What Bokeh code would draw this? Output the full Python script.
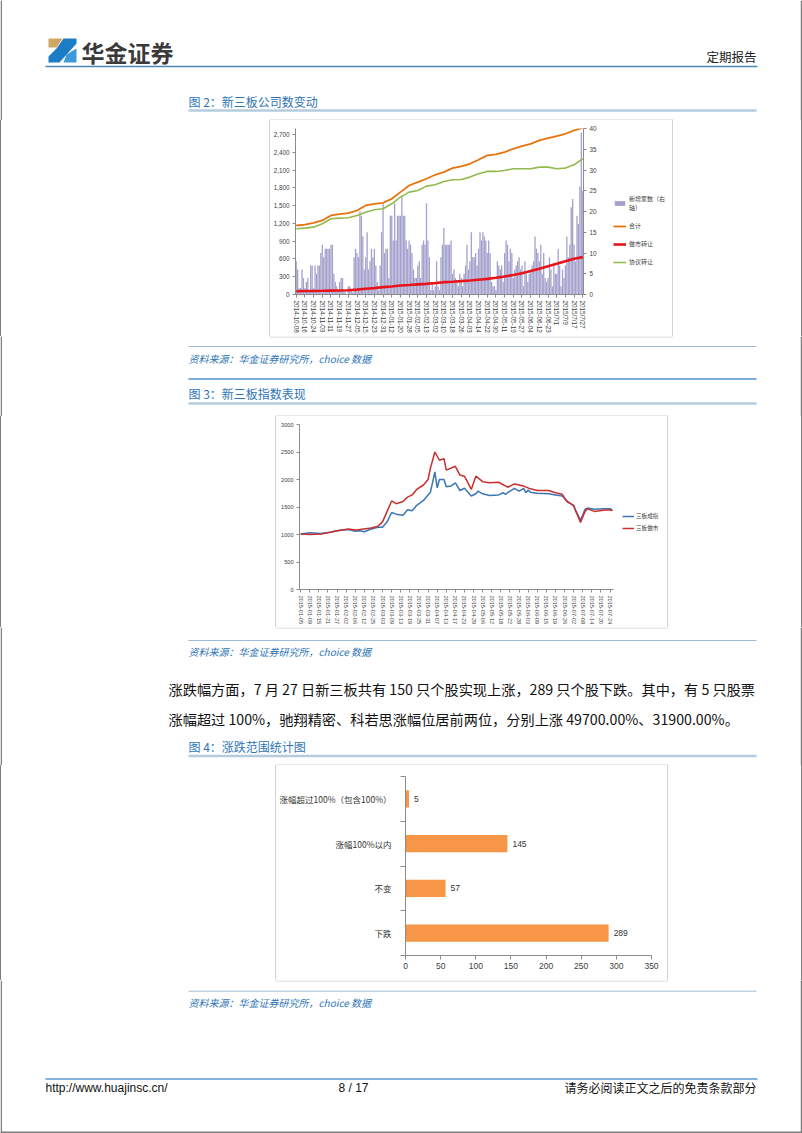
from bokeh.plotting import figure
from bokeh.models import Range1d, LinearAxis, FixedTicker, NumeralTickFormatter, Legend, LegendItem, Div
from bokeh.layouts import column, row
from bokeh.core.properties import value
from bokeh.embed import file_html
from bokeh.resources import INLINE

CJK = "Noto Sans CJK SC"
LAT = "Liberation Sans"

# ---------------- Figure 2 data: company counts (trading days 2014-10-08 .. 2015-07-27) ----------
fig2_tick_labels = ["2014-10-08", "2014-10-16", "2014-10-24", "2014-11-03", "2014-11-11", "2014-11-19",
                    "2014-11-27", "2014-12-05", "2014-12-15", "2014-12-23", "2014-12-31", "2015-01-12",
                    "2015-01-20", "2015-01-28", "2015-02-05", "2015-02-13", "2015-03-02", "2015-03-10",
                    "2015-03-18", "2015-03-26", "2015-04-03", "2015-04-14", "2015-04-22", "2015-04-30",
                    "2015-05-11", "2015-05-19", "2015-05-27", "2015-06-04", "2015-06-12", "2015-06-23",
                    "2015/7/1", "2015/7/9", "2015/7/17", "2015/7/27"]
fig2_tick_idx = [0, 6, 12, 18, 24, 30, 36, 42, 48, 54, 60, 66, 72, 78, 84, 90, 96, 102, 108, 114,
                 120, 126, 132, 138, 144, 150, 156, 162, 168, 174, 180, 186, 192, 198]
new_listed = [8, 6, 1.5, 1.5, 6, 4,
              1.5, 3, 4, 1, 7, 7,
              1.5, 7, 5, 7, 7, 10,
              12, 9, 11, 11, 11, 11,
              12, 12, 5, 3, 2, 1,
              3, 4, 4, 1, 0.5, 0,
              2, 2, 1, 0.5, 9, 11,
              10, 9, 20, 19, 14, 6,
              9, 15, 6, 8, 11, 9,
              11, 7, 3, 1, 7, 15,
              22, 10, 11, 11, 4, 19,
              19, 13, 22, 13, 19, 19,
              19, 24, 19, 19, 13, 11,
              13, 12, 10, 6, 4, 4,
              7, 8, 4, 12, 13, 12,
              22, 13, 9, 1, 3, 1,
              2, 8, 2, 1, 9, 12,
              16, 12, 12, 12, 12, 13,
              5, 6, 4, 3, 2, 5,
              4, 2, 5, 7, 12, 6,
              8, 15, 9, 9, 10, 7,
              11, 15, 13, 15, 14, 13,
              10, 13, 10, 3, 2, 2,
              1, 8, 7, 6, 7, 3,
              10, 13, 12, 8, 11, 10,
              4, 6, 7, 8, 9, 6,
              7, 2, 8, 5, 3, 5,
              6, 7, 8, 14, 11, 10,
              8, 12, 5, 10, 4, 3,
              4, 9, 6, 2, 7, 5,
              5, 11, 7, 2, 6, 4,
              7, 14, 9, 12, 21, 23,
              12, 8, 19, 17, 26, 39,
              25]
total_cos = [1164, 1180, 1209, 1249, 1333, 1355, 1372, 1417, 1502, 1530, 1547, 1614, 1727, 1839, 1895,
             1952, 2019, 2064, 2132, 2160, 2205, 2272, 2346, 2362, 2402, 2458, 2503, 2542, 2599, 2638,
             2672, 2711, 2767, 2810]
mm_cos = [56, 58, 60, 62, 65, 68, 72, 82, 96, 108, 124, 135, 152, 160, 170, 180, 192, 208, 215, 225,
          236, 250, 264, 283, 304, 330, 360, 395, 433, 475, 517, 560, 602, 630]
agree_cos = [1108, 1120, 1136, 1193, 1277, 1288, 1294, 1333, 1389, 1429, 1446, 1530, 1643, 1727, 1755,
             1828, 1850, 1907, 1935, 1941, 1980, 2036, 2076, 2076, 2092, 2121, 2121, 2121, 2149, 2149,
             2121, 2132, 2188, 2290]
fig2_left_ticks = [0, 300, 600, 900, 1200, 1500, 1800, 2100, 2400, 2700]
fig2_right_ticks = [0, 5, 10, 15, 20, 25, 30, 35, 40]
fig2_series = ["新增家数（右\n轴）", "合计", "做市转让", "协议转让"]

# ---------------- Figure 3 data: indices (trading days 2015-01-05 .. 2015-07-27) ----------
fig3_tick_labels = ["2015-01-05", "2015-01-09", "2015-01-15", "2015-01-21", "2015-01-27", "2015-02-02",
                    "2015-02-06", "2015-02-12", "2015-02-25", "2015-03-03", "2015-03-09", "2015-03-13",
                    "2015-03-19", "2015-03-25", "2015-03-31", "2015-04-07", "2015-04-13", "2015-04-17",
                    "2015-04-23", "2015-04-29", "2015-05-06", "2015-05-12", "2015-05-18", "2015-05-22",
                    "2015-05-28", "2015-06-03", "2015-06-09", "2015-06-15", "2015-06-19", "2015-06-26",
                    "2015-07-02", "2015-07-08", "2015-07-14", "2015-07-20", "2015-07-24"]
fig3_tick_idx = [4 * i for i in range(35)]
comp_idx = [0, 4, 9, 13, 16, 21, 24, 26, 28, 31, 34, 36, 38, 40, 42, 45, 47, 49, 51, 54, 56, 57, 59, 60,
            61, 63, 64, 66, 68, 70, 72, 75, 77, 78, 80, 83, 87, 89, 90, 91, 94, 96, 98, 99, 100, 101,
            104, 109, 112, 115, 117, 120, 121, 123, 125, 126, 129, 133, 136, 137]
comp_val = [1010, 1030, 1020, 1040, 1070, 1090, 1060, 1070, 1050, 1100, 1130, 1130, 1230, 1400, 1370,
            1350, 1450, 1430, 1530, 1620, 1720, 1760, 2140, 1850, 2000, 2000, 1870, 1880, 1940, 1800,
            1840, 1700, 1740, 1790, 1740, 1710, 1720, 1760, 1730, 1760, 1840, 1790, 1840, 1760, 1810,
            1770, 1750, 1740, 1720, 1700, 1610, 1520, 1420, 1260, 1460, 1480, 1460, 1470, 1470, 1440]
mm_idx = [0, 4, 9, 13, 16, 21, 24, 26, 31, 34, 36, 38, 40, 42, 45, 47, 49, 51, 54, 56, 57, 59, 61, 63,
          64, 68, 70, 72, 75, 77, 80, 83, 87, 91, 94, 98, 101, 104, 109, 112, 115, 117, 120, 121, 123,
          125, 126, 129, 133, 136, 137]
mm_val = [1010, 1000, 1010, 1040, 1070, 1100, 1080, 1090, 1120, 1150, 1230, 1420, 1610, 1560, 1600,
          1680, 1720, 1820, 1900, 2000, 2200, 2500, 2350, 2380, 2170, 2240, 2080, 2060, 1820, 2060,
          1960, 1940, 1950, 1860, 1920, 1880, 1830, 1800, 1800, 1760, 1730, 1600, 1530, 1420, 1220,
          1420, 1470, 1420, 1440, 1450, 1430]
fig3_y_ticks = [0, 500, 1000, 1500, 2000, 2500, 3000]
fig3_series = ["三板成指", "三板做市"]

# ---------------- Figure 4 data ----------
range_cats = ["涨幅超过100%（包含100%）", "涨幅100%以内", "不变", "下跌"]
range_counts = [5, 145, 57, 289]
fig4_x_ticks = [0, 50, 100, 150, 200, 250, 300, 350]

# ---------------- page texts ----------
para_lines = ["涨跌幅方面，7 月 27 日新三板共有 150 只个股实现上涨，289 只个股下跌。其中，有 5 只股票",
              "涨幅超过 100%，驰翔精密、科若思涨幅位居前两位，分别上涨 49700.00%、31900.00%。"]
source_txt = "资料来源：华金证券研究所，choice 数据"

BORDER = "#7f7f7f"
BOX = "#d4d4d4"
TITLE_BLUE = "#2E75B6"
AX = "#8C8C8C"
LBL = "#404040"
C_BAR = "#A4A2CD"
C_TOT = "#E8720C"
C_MM = "#E8141B"
C_AG = "#93BA4C"
C_COMP = "#3B76B6"
C_MM2 = "#C8302E"


def blank(w, h, x0, y0):
    p = figure(width=w, height=h, x_range=Range1d(x0, x0 + w), y_range=Range1d(y0 + h, y0),
               x_axis_type=None, y_axis_type=None, min_border=0, toolbar_location=None,
               output_backend="svg", outline_line_color=None)
    p.background_fill_color = "white"
    p.border_fill_color = "white"
    return p


def hline(p, y, x0, x1, color, width=1.0):
    p.line(x=[x0, x1], y=[y, y], line_color=color, line_width=width)


def vline(p, x, y0, y1, color, width=1.0):
    p.line(x=[x, x], y=[y0, y1], line_color=color, line_width=width)


def txt(p, x, y, s, size, color="#000000", align="left", font=CJK, style="normal"):
    p.text(x=[x], y=[y], text=[s], text_font=value(font), text_font_size=size, text_color=color,
           text_align=align, text_baseline="middle", text_font_style=style)


def page_piece(y0, h):
    p = blank(802, h, 0, y0)
    vline(p, 0.75, y0, y0 + h, BORDER, 1.5)
    vline(p, 801.0, y0, y0 + h, BORDER, 1.5)
    return p


def filler(w, h, side):
    if side == "left":
        st = {"border-left": "1.5px solid " + BORDER, "border-right": "1px solid " + BOX}
    else:
        st = {"border-left": "1px solid " + BOX, "border-right": "1.5px solid " + BORDER}
    st.update({"box-sizing": "border-box", "background-color": "white", "padding": "0px", "margin": "0px"})
    return Div(text="", width=w, height=h, margin=(0, 0, 0, 0), styles=st)


def legend_panel(w, h):
    # frame top/bottom of this panel get aligned with the neighbouring chart in the row
    p = figure(width=w, height=h, x_range=Range1d(0, 1), y_range=Range1d(0, 1),
               x_axis_type=None, y_axis_type=None, min_border=0, toolbar_location=None,
               output_backend="svg", outline_line_color=None)
    return p


def style_axis(ax, size, font=LAT):
    ax.axis_line_color = AX
    ax.major_tick_line_color = AX
    ax.minor_tick_line_color = None
    ax.major_tick_in = 0
    ax.major_tick_out = 3
    ax.major_label_text_font_size = size
    ax.major_label_text_font = font
    ax.major_label_text_color = LBL
    ax.major_label_standoff = 3


# ================= header piece =================
P1 = page_piece(0, 120)
P1.patches(xs=[[48, 62, 56, 48], [63, 76, 76, 59, 48, 48, 56], [66, 76, 76, 63]],
           ys=[[38, 38, 47, 47], [38, 38, 43, 62, 62, 56, 48], [54, 48, 62, 62]],
           fill_color=["#D0A866", "#1D7CC6", "#3C9BDA"], line_color=None)
txt(P1, 81, 51.5, "华金证券", "23px", "#3a3a3a", style="bold")
txt(P1, 756, 56, "定期报告", "12.5px", "#222222", align="right")
hline(P1, 66, 45, 757, "#4A86B5", 1.6)
txt(P1, 188, 101, "图 2：新三板公司数变动", "12px", TITLE_BLUE)
hline(P1, 110, 188, 756, "#B4CCDD", 2.5)
hline(P1, 119.5, 269, 673, BOX, 1)

# ================= chart 1 (figure 2) =================
n1 = len(new_listed)
c1 = figure(width=335, height=216, x_range=Range1d(-0.5, n1 - 0.5), y_range=Range1d(0, 2800),
            extra_y_ranges={"r": Range1d(0, 40)}, x_axis_type=None, y_axis_type=None,
            min_border_left=25, min_border_right=22, min_border_top=8, min_border_bottom=42,
            toolbar_location=None, output_backend="svg", outline_line_color=None)
c1.vbar(x=list(range(n1)), top=new_listed, width=0.9, y_range_name="r", fill_color=C_BAR, line_color=None)
c1.line(x=fig2_tick_idx, y=total_cos, line_color=C_TOT, line_width=1.8)
c1.line(x=fig2_tick_idx, y=mm_cos, line_color=C_MM, line_width=2.6)
c1.line(x=fig2_tick_idx, y=agree_cos, line_color=C_AG, line_width=1.6)
ax_b = LinearAxis(ticker=FixedTicker(ticks=fig2_tick_idx),
                  major_label_overrides={i: s for i, s in zip(fig2_tick_idx, fig2_tick_labels)})
style_axis(ax_b, "6.3px")
ax_b.major_label_orientation = "vertical"
c1.add_layout(ax_b, "below")
ax_l = LinearAxis(ticker=FixedTicker(ticks=fig2_left_ticks), formatter=NumeralTickFormatter(format="0,0"))
style_axis(ax_l, "6.3px")
c1.add_layout(ax_l, "left")
ax_r = LinearAxis(y_range_name="r", ticker=FixedTicker(ticks=fig2_right_ticks))
style_axis(ax_r, "6.3px")
c1.add_layout(ax_r, "right")

# legend panel for chart 1: hidden proxy renderers carry the series styles
lg1 = legend_panel(67, 216)
k_bar = lg1.vbar(x=[0.5], top=[0.5], width=0.1, fill_color=C_BAR, line_color=None, visible=False)
k_tot = lg1.line(x=[0, 1], y=[0.5, 0.5], line_color=C_TOT, line_width=1.8, visible=False)
k_mm = lg1.line(x=[0, 1], y=[0.5, 0.5], line_color=C_MM, line_width=2.6, visible=False)
k_ag = lg1.line(x=[0, 1], y=[0.5, 0.5], line_color=C_AG, line_width=1.6, visible=False)
leg1 = Legend(items=[LegendItem(label=fig2_series[0], renderers=[k_bar]),
                     LegendItem(label=fig2_series[1], renderers=[k_tot]),
                     LegendItem(label=fig2_series[2], renderers=[k_mm]),
                     LegendItem(label=fig2_series[3], renderers=[k_ag])],
              location=(8, 28), border_line_color=None, background_fill_alpha=0,
              inactive_fill_alpha=0,
              label_text_font=CJK, label_text_font_size="6px", label_text_color=LBL,
              glyph_width=13, glyph_height=6, label_standoff=3, spacing=9, padding=2, margin=0,
              label_height=7)
lg1.add_layout(leg1, "center")

R1 = row(filler(270, 216, "left"), c1, lg1, filler(130, 216, "right"), spacing=0)

# ================= piece 2 =================
P2 = page_piece(336, 80)
hline(P2, 336.5, 269, 673, BOX, 1)
hline(P2, 346, 188, 756, "#9DBBD6", 1)
txt(P2, 188, 357.5, source_txt, "10px", TITLE_BLUE, style="italic")
hline(P2, 378.5, 188, 756, "#4F8FCB", 1.6)
txt(P2, 188, 393, "图 3：新三板指数表现", "12px", TITLE_BLUE)
hline(P2, 403, 188, 756, "#B4CCDD", 2.5)
hline(P2, 415.5, 275, 668, BOX, 1)

# ================= chart 2 (figure 3) =================
c2 = figure(width=341, height=211, x_range=Range1d(-0.5, 137.5), y_range=Range1d(0, 3000),
            x_axis_type=None, y_axis_type=None,
            min_border_left=23, min_border_right=4, min_border_top=8, min_border_bottom=38,
            toolbar_location=None, output_backend="svg", outline_line_color=None)
c2.line(x=comp_idx, y=comp_val, line_color=C_COMP, line_width=1.5)
c2.line(x=mm_idx, y=mm_val, line_color=C_MM2, line_width=1.5)
bx2 = LinearAxis(ticker=FixedTicker(ticks=fig3_tick_idx),
                 major_label_overrides={i: s for i, s in zip(fig3_tick_idx, fig3_tick_labels)})
style_axis(bx2, "5.6px")
bx2.major_label_orientation = "vertical"
c2.add_layout(bx2, "below")
ly2 = LinearAxis(ticker=FixedTicker(ticks=fig3_y_ticks))
style_axis(ly2, "5.6px")
c2.add_layout(ly2, "left")

lg2 = legend_panel(50, 211)
k_comp = lg2.line(x=[0, 1], y=[0.5, 0.5], line_color=C_COMP, line_width=1.5, visible=False)
k_mm2 = lg2.line(x=[0, 1], y=[0.5, 0.5], line_color=C_MM2, line_width=1.5, visible=False)
leg2 = Legend(items=[LegendItem(label=fig3_series[0], renderers=[k_comp]),
                     LegendItem(label=fig3_series[1], renderers=[k_mm2])],
              location=(5, 57), border_line_color=None, background_fill_alpha=0,
              inactive_fill_alpha=0,
              label_text_font=CJK, label_text_font_size="5.6px", label_text_color=LBL,
              glyph_width=12, glyph_height=6, label_standoff=2, spacing=4, padding=1, margin=0,
              label_height=6)
lg2.add_layout(leg2, "center")

R2 = row(filler(276, 211, "left"), c2, lg2, filler(135, 211, "right"), spacing=0)

# ================= piece 3 =================
P3 = page_piece(627, 138)
hline(P3, 627.5, 275, 668, BOX, 1)
hline(P3, 640, 188, 756, "#9DBBD6", 1)
txt(P3, 188, 651, source_txt, "10px", TITLE_BLUE, style="italic")
txt(P3, 168, 688, para_lines[0], "14.2px", "#111111")
txt(P3, 168, 718, para_lines[1], "14.2px", "#111111")
txt(P3, 188, 745.5, "图 4：涨跌范围统计图", "12px", TITLE_BLUE)
hline(P3, 755.5, 188, 756, "#B4CCDD", 2.5)
hline(P3, 764.5, 275, 668, BOX, 1)

# ================= chart 3 (figure 4) =================
ncat = len(range_cats)
ypos = [ncat - i for i in range(ncat)]
c3 = figure(width=391, height=215, x_range=Range1d(0, 350), y_range=Range1d(0.5, ncat + 0.5),
            x_axis_type=None, y_axis_type=None,
            min_border_left=119, min_border_right=16, min_border_top=11, min_border_bottom=25,
            toolbar_location=None, output_backend="svg", outline_line_color=None)
c3.hbar(y=ypos, right=range_counts, left=0, height=0.38, fill_color="#F79646", line_color=None)
c3.text(x=range_counts, y=ypos, text=[str(v) for v in range_counts], x_offset=5,
        text_baseline="middle", text_align="left", text_font=value(LAT), text_font_size="8.5px",
        text_color="#333333")
bx3 = LinearAxis(ticker=FixedTicker(ticks=fig4_x_ticks))
style_axis(bx3, "8.5px")
bx3.major_tick_out = 4
c3.add_layout(bx3, "below")
ly3 = LinearAxis(ticker=FixedTicker(ticks=ypos, minor_ticks=[y - 0.5 for y in ypos] + [ncat + 0.5]),
                 major_label_overrides={y: c for y, c in zip(ypos, range_cats)})
style_axis(ly3, "8.5px", CJK)
ly3.major_tick_out = 0
ly3.minor_tick_line_color = AX
ly3.minor_tick_out = 5
ly3.minor_tick_in = 0
ly3.major_label_standoff = 9
ly3.major_label_text_color = "#333333"
c3.add_layout(ly3, "left")

R3 = row(filler(276, 215, "left"), c3, filler(135, 215, "right"), spacing=0)

# ================= footer piece =================
P4 = page_piece(980, 153)
hline(P4, 980.5, 275, 668, BOX, 1)
hline(P4, 990.7, 188, 756, "#9DBBD6", 1)
txt(P4, 188, 1002, source_txt, "10px", TITLE_BLUE, style="italic")
hline(P4, 1078.5, 45, 757, "#5B9BD5", 1.5)
txt(P4, 45, 1087, "http://www.huajinsc.cn/", "12px", "#111111", font=LAT)
txt(P4, 353, 1087, "8 / 17", "12px", "#111111", align="center", font=LAT)
txt(P4, 756, 1087, "请务必阅读正文之后的免责条款部分", "12px", "#111111", align="right")
hline(P4, 1131.7, 0, 802, BORDER, 1.5)

page = column(P1, R1, P2, R2, P3, R3, P4, spacing=0)
open("out.html", "w").write(file_html(page, INLINE))
